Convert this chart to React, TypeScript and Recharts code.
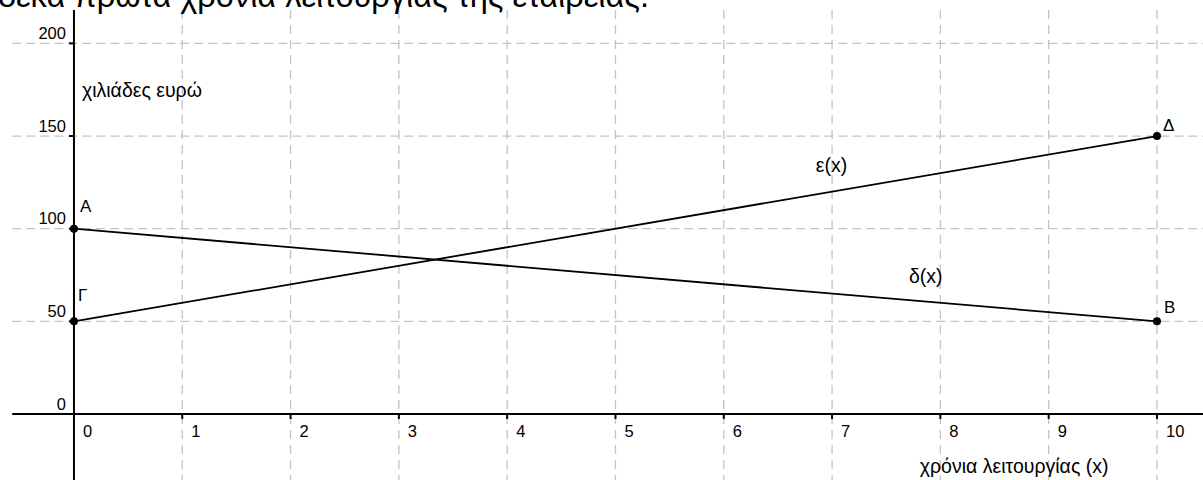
import React from 'react';
import { LineChart, Line, XAxis, YAxis, ReferenceLine, ReferenceDot } from 'recharts';

// ---- data ----
const years = [0, 10];
const deltaValues = [100, 50];
const epsilonValues = [50, 150];
const deltaPointNames = ['Α', 'Β'];
const epsilonPointNames = ['Γ', 'Δ'];
const xTicks = [0, 1, 2, 3, 4, 5, 6, 7, 8, 9, 10];
const yTicks = [0, 50, 100, 150, 200];
const gridX = [1, 2, 3, 4, 5, 6, 7, 8, 9, 10];
const gridY = [50, 100, 150, 200];
const xDomain: [number, number] = [-0.683, 10.425];
const yDomain: [number, number] = [-35.6, 223.4];
const gridStart = { x: -0.57, y: 218 };
const functionLabels = [
  { text: 'ε(x)', x: 6.85, y: 130.5 },
  { text: 'δ(x)', x: 7.71, y: 70.7 },
];
const axisTitles = [
  { text: 'χιλιάδες ευρώ', x: 0.074, y: 171 },
  { text: 'χρόνια λειτουργίας (x)', x: 7.81, y: -31.8 },
];
const titleText = 'δέκα πρώτα χρόνια λειτουργίας της εταιρείας.';

const data = years.map((x, i) => ({
  x,
  delta: deltaValues[i],
  epsilon: epsilonValues[i],
  deltaName: deltaPointNames[i],
  epsilonName: epsilonPointNames[i],
}));

// ---- styles ----
const FONT = '"Liberation Sans", Arial, sans-serif';
const GRID = '#c4c4c4';
const TICK_FS = 16.5;
const LABEL_FS = 19.5;
const POINT_FS = 17;
const labelOffsets: Record<string, { dx: number; dy: number }> = {
  'Α': { dx: 6, dy: -17 },
  'Β': { dx: 7, dy: -8 },
  'Γ': { dx: 4, dy: -20 },
  'Δ': { dx: 6, dy: -5 },
};

const makeDot = (nameKey: 'deltaName' | 'epsilonName') => (props: any) => {
  const { cx, cy, index, payload } = props;
  const name = payload[nameKey];
  const off = labelOffsets[name] || { dx: 6, dy: -8 };
  return (
    <g key={`${nameKey}-${index}`}>
      <circle cx={cx} cy={cy} r={4} fill="#000" />
      <text x={cx + off.dx} y={cy + off.dy} fontFamily={FONT} fontSize={POINT_FS} fill="#000">
        {name}
      </text>
    </g>
  );
};

export default function App() {
  return (
    <div style={{ position: 'fixed', left: 0, top: 0, width: 1203, height: 480, overflow: 'hidden', background: '#fff' }}>
      <LineChart width={1203} height={480} data={data} margin={{ top: 0, right: 0, bottom: 0, left: 0 }}>
        <XAxis type="number" dataKey="x" domain={xDomain} allowDataOverflow hide />
        <YAxis type="number" domain={yDomain} allowDataOverflow hide />
        {gridY.map((v) => (
          <ReferenceLine
            key={`gy-${v}`}
            segment={[{ x: gridStart.x, y: v }, { x: xDomain[1], y: v }]}
            stroke={GRID}
            strokeWidth={1.3}
            strokeDasharray="9 5"
            ifOverflow="visible"
          />
        ))}
        {gridX.map((v) => (
          <ReferenceLine
            key={`gx-${v}`}
            segment={[{ x: v, y: gridStart.y }, { x: v, y: yDomain[0] }]}
            stroke={GRID}
            strokeWidth={1.3}
            strokeDasharray="9 6"
            ifOverflow="visible"
          />
        ))}
        <ReferenceLine
          segment={[{ x: gridStart.x, y: 0 }, { x: xDomain[1], y: 0 }]}
          stroke="#000"
          strokeWidth={2}
          ifOverflow="visible"
        />
        <ReferenceLine
          segment={[{ x: 0, y: gridStart.y }, { x: 0, y: yDomain[0] }]}
          stroke="#000"
          strokeWidth={2}
          ifOverflow="visible"
        />
        {xTicks.map((t) => (
          <ReferenceDot
            key={`xt-${t}`}
            x={t}
            y={0}
            ifOverflow="visible"
            shape={(p: any) => (
              <g>
                {t !== 0 && <line x1={p.cx} y1={p.cy} x2={p.cx} y2={p.cy + 5} stroke="#000" strokeWidth={2} />}
                <text x={p.cx + 9} y={p.cy + 23} fontFamily={FONT} fontSize={TICK_FS} fill="#000">
                  {t}
                </text>
              </g>
            )}
          />
        ))}
        {yTicks.map((t) => (
          <ReferenceDot
            key={`yt-${t}`}
            x={0}
            y={t}
            ifOverflow="visible"
            shape={(p: any) => (
              <g>
                {t !== 0 && <line x1={p.cx - 5} y1={p.cy} x2={p.cx} y2={p.cy} stroke="#000" strokeWidth={2} />}
                <text x={p.cx - 8} y={p.cy - 4.5} textAnchor="end" fontFamily={FONT} fontSize={TICK_FS} fill="#000">
                  {t}
                </text>
              </g>
            )}
          />
        ))}
        {[...functionLabels, ...axisTitles].map((l) => (
          <ReferenceDot
            key={`lab-${l.text}`}
            x={l.x}
            y={l.y}
            ifOverflow="visible"
            shape={(p: any) => (
              <text x={p.cx} y={p.cy} fontFamily={FONT} fontSize={LABEL_FS} fill="#000">
                {l.text}
              </text>
            )}
          />
        ))}
        <Line
          dataKey="delta"
          stroke="#000"
          strokeWidth={1.8}
          dot={makeDot('deltaName')}
          activeDot={false}
          isAnimationActive={false}
        />
        <Line
          dataKey="epsilon"
          stroke="#000"
          strokeWidth={1.8}
          dot={makeDot('epsilonName')}
          activeDot={false}
          isAnimationActive={false}
        />
      </LineChart>
      <div
        style={{
          position: 'absolute',
          left: -2,
          top: -20,
          fontFamily: FONT,
          fontSize: 32.5,
          lineHeight: '32px',
          whiteSpace: 'nowrap',
          color: '#000',
        }}
      >
        {titleText}
      </div>
    </div>
  );
}
